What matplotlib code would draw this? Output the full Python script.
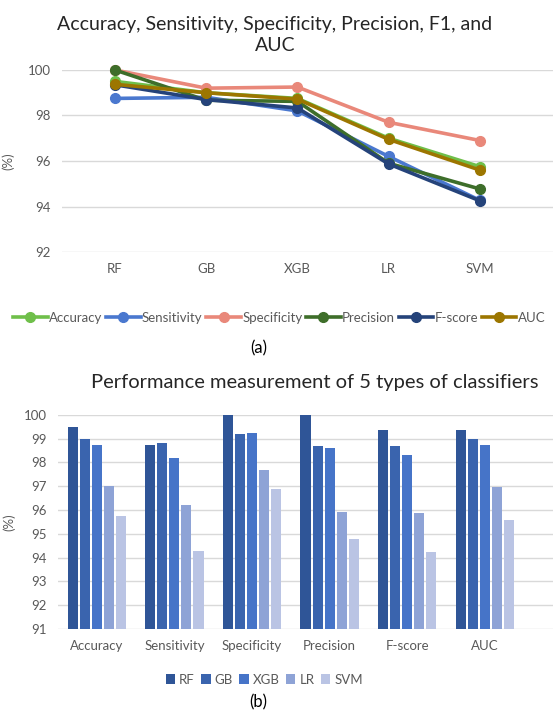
import numpy as np
import matplotlib.pyplot as plt

plt.rcParams['font.family'] = ['Lato', 'DejaVu Sans']

classifiers = ['RF', 'GB', 'XGB', 'LR', 'SVM']
metrics = ['Accuracy', 'Sensitivity', 'Specificity', 'Precision', 'F-score', 'AUC']

accuracy = [99.5, 99.0, 98.75, 97.0, 95.75]
sensitivity = [98.75, 98.8, 98.2, 96.2, 94.27]
specificity = [100.0, 99.2, 99.25, 97.7, 96.9]
precision = [100.0, 98.67, 98.62, 95.9, 94.77]
fscore = [99.35, 98.7, 98.33, 95.87, 94.25]
auc = [99.37, 99.0, 98.72, 96.95, 95.6]

series = [accuracy, sensitivity, specificity, precision, fscore, auc]
line_colors = ['#6FBF4A', '#4A78CF', '#E9887A', '#3E6E2A', '#25437A', '#9C7600']
bar_colors = ['#2F5597', '#3A64AE', '#4674C8', '#8EA3D6', '#BAC4E4']

tick_color = '#595959'
grid_color = '#D9D9D9'

fig = plt.figure(figsize=(5.53, 7.14), dpi=100)

# ---- (a) line chart ----
ax1 = fig.add_axes([0.112, 0.647, 0.888, 0.255])
x = np.arange(len(classifiers))
for name, vals, c in zip(metrics, series, line_colors):
    ax1.plot(x, vals, color=c, lw=2.6, marker='o', ms=7, label=name, clip_on=False, zorder=3)
ax1.set_ylim(92, 100)
ax1.set_yticks([92, 94, 96, 98, 100])
ax1.set_xlim(-0.58, 4.8)
ax1.set_xticks(x)
ax1.set_xticklabels(classifiers)
ax1.grid(axis='y', color=grid_color, lw=1)
ax1.set_axisbelow(True)
for s in ax1.spines.values():
    s.set_visible(False)
ax1.tick_params(length=0, colors=tick_color, labelsize=9.5, pad=8)
ax1.set_ylabel('(%)', color=tick_color, fontsize=9.5, labelpad=10)
fig.text(0.497, 0.978, 'Accuracy, Sensitivity, Specificity, Precision, F1, and\nAUC',
         ha='center', va='top', fontsize=14, color='#262626', linespacing=1.3)
fig.legend(*ax1.get_legend_handles_labels(), loc='center', bbox_to_anchor=(0.505, 0.555),
           ncol=6, frameon=False, fontsize=9.5, handlelength=2.6, handletextpad=0.1,
           columnspacing=0.3, labelcolor=tick_color)
fig.text(0.467, 0.512, '(a)', ha='center', va='center', fontsize=12, color='black')

# ---- (b) bar chart ----
ax2 = fig.add_axes([0.105, 0.119, 0.895, 0.300])
xb = np.arange(len(metrics))
pitch = 0.155
width = 0.13
for i, (clf, c) in enumerate(zip(classifiers, bar_colors)):
    vals = [s[i] for s in series]
    ax2.bar(xb + (i - 2) * pitch, vals, width=width, color=c, label=clf, zorder=3)
ax2.set_ylim(91, 100)
ax2.set_yticks(range(91, 101))
ax2.set_xlim(-0.5, 5.88)
ax2.set_xticks(xb)
ax2.set_xticklabels(metrics)
ax2.grid(axis='y', color=grid_color, lw=1)
ax2.set_axisbelow(True)
for s in ax2.spines.values():
    s.set_visible(False)
ax2.tick_params(length=0, colors=tick_color, labelsize=9.5, pad=8)
ax2.set_ylabel('(%)', color=tick_color, fontsize=9.5, labelpad=6)
fig.text(0.57, 0.464, 'Performance measurement of 5 types of classifiers',
         ha='center', va='center', fontsize=14.5, color='#262626')
fig.legend(*ax2.get_legend_handles_labels(), loc='center', bbox_to_anchor=(0.478, 0.048),
           ncol=5, frameon=False, fontsize=9.5, handlelength=0.7, handleheight=0.7,
           handletextpad=0.3, columnspacing=0.5, labelcolor=tick_color)
fig.text(0.467, 0.016, '(b)', ha='center', va='center', fontsize=12, color='black')

fig.savefig('out.png', dpi=100, facecolor='white')
